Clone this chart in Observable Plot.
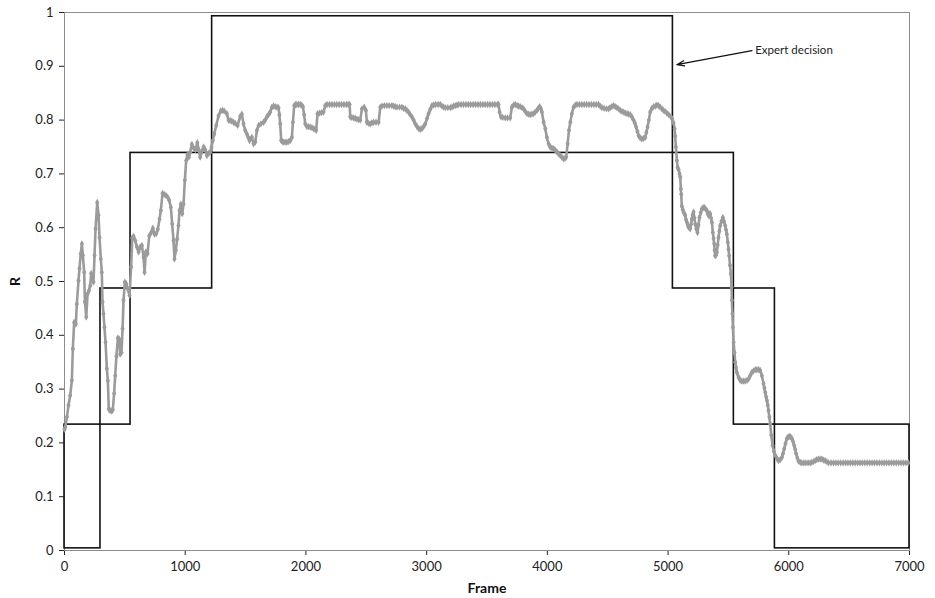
<!DOCTYPE html>
<html>
<head>
<meta charset="utf-8">
<script src="https://cdn.jsdelivr.net/npm/d3@7"></script>
<script src="https://cdn.jsdelivr.net/npm/@observablehq/plot@0.6"></script>
<style>
  html, body { margin: 0; padding: 0; background: #fff; }
  #chart svg { display: block; }
  g[aria-label="x-axis label"] text, g[aria-label="y-axis label"] text { font-weight: bold; font-size: 14px; fill: #111; }
</style>
</head>
<body>
<div id="chart"></div>
<script>
const rPoints = [
[0,0.225],[6,0.229],[20,0.248],[33,0.270],[47,0.288],[61,0.316],[69,0.375],[80,0.424],[94,0.421],[102,0.458],[116,0.502],[124,0.524],[135,0.552],[144,0.570],[152,0.549],[163,0.517],[169,0.462],[180,0.434],[191,0.477],[202,0.483],[213,0.492],[221,0.515],[232,0.506],[240,0.499],[249,0.549],[257,0.598],[271,0.647],[282,0.623],[290,0.582],[301,0.542],[309,0.517],[315,0.462],[323,0.440],[331,0.415],[340,0.387],[351,0.338],[359,0.316],[367,0.263],[378,0.260],[392,0.259],[400,0.262],[411,0.292],[420,0.325],[430,0.361],[442,0.395],[453,0.393],[461,0.365],[472,0.368],[481,0.412],[489,0.465],[500,0.499],[511,0.496],[522,0.487],[539,0.474],[552,0.527],[561,0.581],[572,0.584],[586,0.576],[600,0.564],[614,0.555],[627,0.564],[641,0.567],[655,0.545],[663,0.517],[674,0.555],[688,0.552],[702,0.585],[718,0.591],[732,0.599],[746,0.588],[760,0.589],[773,0.597],[787,0.616],[798,0.632],[812,0.664],[826,0.662],[840,0.660],[854,0.657],[867,0.651],[881,0.638],[892,0.607],[903,0.576],[911,0.542],[922,0.558],[933,0.579],[944,0.604],[953,0.632],[964,0.644],[975,0.626],[986,0.644],[997,0.688],[1008,0.725],[1019,0.736],[1030,0.731],[1041,0.740],[1055,0.755],[1070,0.748],[1085,0.745],[1100,0.758],[1112,0.745],[1124,0.731],[1138,0.742],[1152,0.750],[1166,0.745],[1180,0.734],[1194,0.738],[1207,0.740],[1218,0.750],[1229,0.762],[1240,0.774],[1257,0.790],[1276,0.808],[1295,0.817],[1309,0.818],[1323,0.817],[1345,0.812],[1359,0.800],[1372,0.799],[1386,0.798],[1400,0.796],[1414,0.794],[1434,0.790],[1456,0.807],[1469,0.811],[1483,0.793],[1497,0.781],[1511,0.774],[1522,0.768],[1533,0.762],[1552,0.768],[1566,0.756],[1580,0.759],[1594,0.781],[1608,0.790],[1627,0.793],[1649,0.796],[1663,0.800],[1677,0.806],[1690,0.810],[1704,0.815],[1718,0.824],[1732,0.826],[1746,0.825],[1760,0.824],[1773,0.823],[1780,0.810],[1787,0.793],[1795,0.762],[1805,0.760],[1815,0.759],[1828,0.759],[1842,0.759],[1856,0.760],[1870,0.762],[1884,0.768],[1892,0.796],[1903,0.827],[1914,0.829],[1925,0.829],[1939,0.829],[1953,0.829],[1964,0.828],[1975,0.825],[1985,0.810],[1994,0.793],[2008,0.788],[2022,0.788],[2036,0.787],[2050,0.786],[2063,0.784],[2075,0.783],[2085,0.781],[2096,0.812],[2113,0.813],[2130,0.814],[2146,0.815],[2160,0.827],[2175,0.829],[2195,0.829],[2215,0.829],[2235,0.829],[2255,0.829],[2275,0.829],[2295,0.829],[2315,0.829],[2335,0.829],[2350,0.829],[2362,0.829],[2367,0.806],[2380,0.805],[2395,0.804],[2408,0.803],[2422,0.802],[2436,0.801],[2450,0.800],[2464,0.821],[2483,0.824],[2497,0.818],[2505,0.796],[2519,0.794],[2533,0.793],[2547,0.795],[2560,0.796],[2580,0.796],[2602,0.796],[2616,0.824],[2630,0.826],[2650,0.827],[2670,0.827],[2690,0.827],[2712,0.827],[2726,0.826],[2740,0.825],[2754,0.824],[2775,0.824],[2795,0.824],[2809,0.822],[2823,0.821],[2836,0.818],[2850,0.815],[2864,0.810],[2878,0.806],[2892,0.800],[2906,0.793],[2920,0.788],[2934,0.784],[2947,0.783],[2961,0.784],[2975,0.788],[2989,0.793],[3003,0.803],[3016,0.812],[3030,0.820],[3044,0.827],[3058,0.828],[3075,0.829],[3095,0.829],[3113,0.829],[3127,0.826],[3141,0.824],[3155,0.823],[3175,0.823],[3196,0.823],[3210,0.824],[3223,0.826],[3237,0.827],[3251,0.828],[3265,0.829],[3285,0.829],[3305,0.829],[3325,0.829],[3345,0.829],[3365,0.829],[3385,0.829],[3405,0.829],[3425,0.829],[3445,0.829],[3465,0.829],[3485,0.829],[3505,0.829],[3525,0.829],[3545,0.829],[3565,0.829],[3585,0.829],[3596,0.829],[3604,0.815],[3615,0.806],[3630,0.805],[3651,0.804],[3670,0.804],[3692,0.804],[3706,0.824],[3720,0.828],[3734,0.829],[3750,0.827],[3762,0.826],[3775,0.825],[3790,0.823],[3803,0.821],[3817,0.816],[3831,0.812],[3845,0.811],[3858,0.810],[3872,0.811],[3886,0.812],[3900,0.815],[3914,0.818],[3925,0.822],[3936,0.825],[3945,0.822],[3955,0.815],[3969,0.796],[3983,0.784],[3996,0.768],[4010,0.756],[4024,0.750],[4038,0.748],[4052,0.747],[4065,0.744],[4079,0.741],[4093,0.737],[4107,0.734],[4120,0.731],[4134,0.728],[4145,0.729],[4156,0.731],[4168,0.756],[4179,0.781],[4190,0.796],[4203,0.812],[4217,0.824],[4231,0.828],[4245,0.829],[4265,0.829],[4285,0.829],[4305,0.829],[4325,0.829],[4345,0.829],[4365,0.829],[4385,0.829],[4405,0.829],[4424,0.829],[4438,0.826],[4452,0.823],[4470,0.822],[4490,0.821],[4507,0.821],[4520,0.823],[4534,0.825],[4548,0.827],[4562,0.825],[4576,0.823],[4590,0.821],[4604,0.818],[4618,0.816],[4632,0.815],[4645,0.813],[4660,0.812],[4673,0.811],[4687,0.810],[4700,0.806],[4714,0.800],[4725,0.794],[4736,0.787],[4746,0.779],[4756,0.771],[4769,0.767],[4783,0.765],[4797,0.766],[4811,0.768],[4820,0.777],[4830,0.787],[4841,0.800],[4852,0.815],[4866,0.822],[4880,0.825],[4895,0.826],[4907,0.828],[4921,0.827],[4935,0.824],[4949,0.821],[4962,0.818],[4976,0.816],[4990,0.813],[5005,0.810],[5023,0.806],[5035,0.802],[5045,0.795],[5054,0.784],[5059,0.770],[5065,0.750],[5073,0.725],[5079,0.712],[5087,0.708],[5095,0.700],[5101,0.694],[5106,0.672],[5109,0.662],[5114,0.640],[5121,0.634],[5128,0.629],[5135,0.626],[5142,0.623],[5149,0.615],[5156,0.610],[5163,0.605],[5170,0.601],[5183,0.598],[5190,0.606],[5197,0.616],[5204,0.624],[5211,0.629],[5218,0.618],[5225,0.607],[5234,0.598],[5244,0.591],[5252,0.605],[5260,0.619],[5270,0.628],[5280,0.635],[5290,0.637],[5299,0.638],[5310,0.635],[5321,0.632],[5328,0.627],[5335,0.623],[5342,0.625],[5349,0.626],[5356,0.618],[5363,0.610],[5371,0.591],[5377,0.580],[5382,0.570],[5386,0.558],[5390,0.548],[5397,0.549],[5404,0.554],[5411,0.568],[5418,0.582],[5425,0.594],[5432,0.604],[5443,0.612],[5454,0.619],[5463,0.612],[5473,0.604],[5480,0.596],[5487,0.588],[5495,0.573],[5501,0.560],[5506,0.548],[5513,0.530],[5520,0.514],[5526,0.490],[5529,0.465],[5533,0.440],[5537,0.415],[5543,0.387],[5550,0.368],[5556,0.350],[5563,0.340],[5570,0.331],[5584,0.322],[5598,0.316],[5611,0.315],[5625,0.315],[5639,0.315],[5653,0.316],[5667,0.319],[5680,0.325],[5694,0.331],[5708,0.334],[5722,0.336],[5736,0.336],[5750,0.336],[5763,0.335],[5777,0.325],[5791,0.310],[5798,0.302],[5805,0.294],[5812,0.286],[5819,0.279],[5826,0.270],[5832,0.260],[5839,0.248],[5846,0.235],[5855,0.214],[5866,0.195],[5877,0.184],[5888,0.177],[5902,0.171],[5915,0.167],[5929,0.169],[5943,0.173],[5952,0.180],[5962,0.189],[5973,0.199],[5984,0.208],[5995,0.211],[6006,0.212],[6016,0.211],[6026,0.208],[6036,0.202],[6045,0.195],[6053,0.188],[6061,0.180],[6071,0.172],[6081,0.166],[6095,0.164],[6108,0.163],[6125,0.163],[6142,0.163],[6160,0.163],[6177,0.163],[6190,0.164],[6204,0.165],[6218,0.167],[6232,0.169],[6246,0.170],[6260,0.170],[6274,0.170],[6288,0.168],[6301,0.167],[6315,0.165],[6329,0.163],[6350,0.163],[6370,0.163],[6390,0.163],[6410,0.163],[6430,0.163],[6450,0.163],[6470,0.163],[6490,0.163],[6510,0.163],[6530,0.163],[6550,0.163],[6570,0.163],[6590,0.163],[6610,0.163],[6630,0.163],[6650,0.163],[6670,0.163],[6690,0.163],[6710,0.163],[6730,0.163],[6750,0.163],[6770,0.163],[6790,0.163],[6810,0.163],[6830,0.163],[6850,0.163],[6870,0.163],[6890,0.163],[6910,0.163],[6930,0.163],[6950,0.163],[6970,0.163],[6990,0.163]
];

// Expert decision: frame intervals with a lower and upper bound on R
const stepStart = [0, 298, 547, 1223, 5040, 5545, 5885];
const stepEnd   = [298, 547, 1223, 5040, 5545, 5885, 7000];
const stepLow   = [0.004, 0.234, 0.487, 0.739, 0.487, 0.234, 0.004];
const stepHigh  = [0.234, 0.487, 0.739, 0.993, 0.739, 0.487, 0.234];

const xTicks = [0, 1000, 2000, 3000, 4000, 5000, 6000, 7000];
const yTicks = [0, 0.1, 0.2, 0.3, 0.4, 0.5, 0.6, 0.7, 0.8, 0.9, 1];

const annotationText = "Expert decision";
const arrowFrom = [5695, 0.929];
const arrowTo = [5073, 0.903];
const textAt = [5722, 0.929];

const series = rPoints.map(([frame, r]) => ({frame, r}));
const steps = stepStart.map((s, i) => ({x1: s, x2: stepEnd[i], y1: stepLow[i], y2: stepHigh[i]}));

const chart = Plot.plot({
  width: 935,
  height: 598,
  marginLeft: 64,
  marginRight: 26,
  marginTop: 12,
  marginBottom: 48,
  style: {fontFamily: "Lato, 'DejaVu Sans', sans-serif", fontSize: "13px", color: "#222", background: "#fff"},
  x: {domain: [0, 7000], ticks: xTicks, tickFormat: d => String(d), tickSize: 5, tickPadding: 6,
      label: "Frame", labelAnchor: "center", labelArrow: "none", labelOffset: 42},
  y: {domain: [0, 1], ticks: yTicks, tickFormat: d => String(d), tickSize: 5, tickPadding: 6,
      label: "R", labelAnchor: "center", labelArrow: "none", labelOffset: 54},
  marks: [
    Plot.frame({stroke: "#8c8c8c", strokeWidth: 1}),
    Plot.rect(steps, {x1: "x1", x2: "x2", y1: "y1", y2: "y2", fill: "none", stroke: "#111", strokeWidth: 1.6}),
    Plot.line(series, {x: "frame", y: "r", stroke: "#9b9b9b", strokeWidth: 2.6}),
    Plot.dot(series, {x: "frame", y: "r", symbol: "diamond", r: 2.2, fill: "#9b9b9b", stroke: "none"}),
    Plot.arrow([{x1: arrowFrom[0], y1: arrowFrom[1], x2: arrowTo[0], y2: arrowTo[1]}],
      {x1: "x1", y1: "y1", x2: "x2", y2: "y2", stroke: "#111", strokeWidth: 1.3, headLength: 9, headAngle: 40}),
    Plot.text([{x: textAt[0], y: textAt[1], t: annotationText}],
      {x: "x", y: "y", text: "t", textAnchor: "start", fontSize: 11.5, fill: "#222"})
  ]
});
document.getElementById("chart").appendChild(chart);
</script>
</body>
</html>
